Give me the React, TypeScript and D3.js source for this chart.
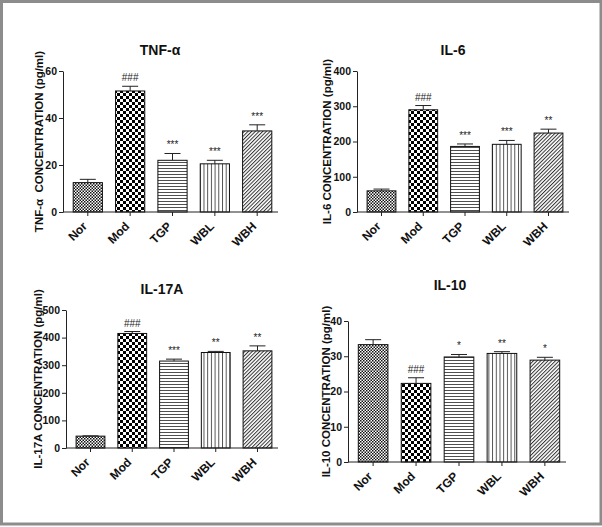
import React, { useEffect, useRef } from 'react';
import * as d3 from 'd3';

// groups shared by all four panels
const groups = ['Nor', 'Mod', 'TGP', 'WBL', 'WBH'];

// TNF-α (pg/ml)
const tnfMean = [12.5, 51.5, 22, 20.5, 34.5];
const tnfSem = [1.4, 2, 2.9, 1.5, 2.6];
const tnfSig = ['', '###', '***', '***', '***'];
const tnfTicks = [0, 20, 40, 60];

// IL-6 (pg/ml)
const il6Mean = [60, 290, 186, 192, 224];
const il6Sem = [5, 12, 7, 11, 11];
const il6Sig = ['', '###', '***', '***', '**'];
const il6Ticks = [0, 100, 200, 300, 400];

// IL-17A (pg/ml)
const il17Mean = [43, 415, 315, 346, 352];
const il17Sem = [1, 7, 7, 4, 18];
const il17Sig = ['', '###', '***', '**', '**'];
const il17Ticks = [0, 100, 200, 300, 400, 500];

// IL-10 (pg/ml)
const il10Mean = [33.3, 22.3, 29.8, 30.8, 28.9];
const il10Sem = [1.4, 1.6, 0.7, 0.5, 0.8];
const il10Sig = ['', '###', '*', '**', '*'];
const il10Ticks = [0, 10, 20, 30, 40];

const patternIds = ['pNor', 'pMod', 'pTGP', 'pWBL', 'pWBH'];

const W = 602;
const H = 527;
const FONT = '"Liberation Sans", Arial, Helvetica, sans-serif';

const App: React.FC = () => {
    const svgRef = useRef<SVGSVGElement>(null);

    useEffect(() => {
        if (!svgRef.current) return;
        const svg = d3.select(svgRef.current);
        svg.selectAll('*').remove();

        svg.append('rect').attr('width', W).attr('height', H).attr('fill', '#fff');

        // fill patterns
        const defs = svg.append('defs');
        const fine = defs.append('pattern').attr('id', 'pNor')
            .attr('patternUnits', 'userSpaceOnUse').attr('width', 3).attr('height', 3);
        fine.append('rect').attr('width', 3).attr('height', 3).attr('fill', '#fff');
        fine.append('rect').attr('width', 1.5).attr('height', 1.5).attr('fill', '#111');
        fine.append('rect').attr('x', 1.5).attr('y', 1.5).attr('width', 1.5).attr('height', 1.5).attr('fill', '#111');

        const coarse = defs.append('pattern').attr('id', 'pMod')
            .attr('patternUnits', 'userSpaceOnUse').attr('width', 6).attr('height', 6);
        coarse.append('rect').attr('width', 6).attr('height', 6).attr('fill', '#fff');
        coarse.append('rect').attr('width', 3).attr('height', 3).attr('fill', '#000');
        coarse.append('rect').attr('x', 3).attr('y', 3).attr('width', 3).attr('height', 3).attr('fill', '#000');

        const horiz = defs.append('pattern').attr('id', 'pTGP')
            .attr('patternUnits', 'userSpaceOnUse').attr('width', 4).attr('height', 3);
        horiz.append('rect').attr('width', 4).attr('height', 3).attr('fill', '#fff');
        horiz.append('line').attr('x1', 0).attr('x2', 4).attr('y1', 0.5).attr('y2', 0.5)
            .attr('stroke', '#222').attr('stroke-width', 0.8);

        const vert = defs.append('pattern').attr('id', 'pWBL')
            .attr('patternUnits', 'userSpaceOnUse').attr('width', 3.7).attr('height', 4);
        vert.append('rect').attr('width', 3.7).attr('height', 4).attr('fill', '#fff');
        vert.append('line').attr('x1', 0.5).attr('x2', 0.5).attr('y1', 0).attr('y2', 4)
            .attr('stroke', '#222').attr('stroke-width', 0.8);

        const diag = defs.append('pattern').attr('id', 'pWBH')
            .attr('patternUnits', 'userSpaceOnUse').attr('width', 2.6).attr('height', 2.6)
            .attr('patternTransform', 'rotate(45)');
        diag.append('rect').attr('width', 2.6).attr('height', 2.6).attr('fill', '#fff');
        diag.append('line').attr('x1', 0.5).attr('x2', 0.5).attr('y1', 0).attr('y2', 2.6)
            .attr('stroke', '#333').attr('stroke-width', 1);

        const panels = [
            { title: 'TNF-α', yLabel: 'TNF-α  CONCENTRATION (pg/ml)', mean: tnfMean, sem: tnfSem, sig: tnfSig, ticks: tnfTicks,
              x0: 63, x1: 278, y0: 212, y1: 71, titleX: 160, titleY: 55, labelX: 43 },
            { title: 'IL-6', yLabel: 'IL-6 CONCENTRATION (pg/ml)', mean: il6Mean, sem: il6Sem, sig: il6Sig, ticks: il6Ticks,
              x0: 357, x1: 569, y0: 212, y1: 71, titleX: 453, titleY: 55, labelX: 331 },
            { title: 'IL-17A', yLabel: 'IL-17A CONCENTRATION (pg/ml)', mean: il17Mean, sem: il17Sem, sig: il17Sig, ticks: il17Ticks,
              x0: 66, x1: 278, y0: 448, y1: 310, titleX: 162, titleY: 294, labelX: 42 },
            { title: 'IL-10', yLabel: 'IL-10 CONCENTRATION (pg/ml)', mean: il10Mean, sem: il10Sem, sig: il10Sig, ticks: il10Ticks,
              x0: 348, x1: 566, y0: 462, y1: 321, titleX: 450, titleY: 290, labelX: 330 },
        ];

        panels.forEach(p => {
            const g = svg.append('g').attr('font-family', FONT);

            const x = d3.scaleBand<string>()
                .domain(groups)
                .range([p.x0 + 3, p.x1 + 1])
                .paddingInner(0.31)
                .paddingOuter(0.17);
            const y = d3.scaleLinear()
                .domain([0, d3.max(p.ticks) as number])
                .range([p.y0, p.y1]);

            // bars
            g.selectAll('rect.bar')
                .data(groups)
                .enter()
                .append('rect')
                .attr('class', 'bar')
                .attr('x', d => x(d) as number)
                .attr('y', (d, i) => y(p.mean[i]))
                .attr('width', x.bandwidth())
                .attr('height', (d, i) => p.y0 - y(p.mean[i]))
                .attr('fill', (d, i) => `url(#${patternIds[i]})`)
                .attr('stroke', '#111')
                .attr('stroke-width', 1);

            // upper error bars
            const cap = 8;
            groups.forEach((grp, i) => {
                const cx = (x(grp) as number) + x.bandwidth() / 2;
                const top = y(p.mean[i] + p.sem[i]);
                g.append('line').attr('x1', cx).attr('x2', cx)
                    .attr('y1', y(p.mean[i])).attr('y2', top)
                    .attr('stroke', '#222').attr('stroke-width', 1);
                g.append('line').attr('x1', cx - cap).attr('x2', cx + cap)
                    .attr('y1', top).attr('y2', top)
                    .attr('stroke', '#222').attr('stroke-width', 1);
                if (p.sig[i]) {
                    g.append('text')
                        .attr('x', cx)
                        .attr('y', top - 5)
                        .attr('text-anchor', 'middle')
                        .attr('font-size', '10px')
                        .attr('fill', '#222')
                        .text(p.sig[i]);
                }
            });

            // y axis
            const yAxis = g.append('g')
                .attr('transform', `translate(${p.x0},0)`)
                .call(d3.axisLeft(y).tickValues(p.ticks).tickSize(4).tickPadding(2)
                    .tickSizeOuter(0).tickFormat(d3.format('d')));
            yAxis.select('.domain').attr('stroke', '#222');
            yAxis.selectAll('.tick line').attr('stroke', '#222');
            yAxis.selectAll('text')
                .attr('font-family', FONT)
                .attr('font-size', '10.5px')
                .attr('font-weight', 'bold')
                .attr('fill', '#111');

            // x axis
            g.append('line')
                .attr('x1', p.x0).attr('x2', p.x1)
                .attr('y1', p.y0).attr('y2', p.y0)
                .attr('stroke', '#222').attr('stroke-width', 1);
            groups.forEach(grp => {
                const cx = (x(grp) as number) + x.bandwidth() / 2;
                g.append('line').attr('x1', cx).attr('x2', cx)
                    .attr('y1', p.y0).attr('y2', p.y0 + 4)
                    .attr('stroke', '#222');
                g.append('text')
                    .attr('transform', `translate(${cx},${p.y0 + 15}) rotate(-45)`)
                    .attr('text-anchor', 'end')
                    .attr('font-size', '12px')
                    .attr('font-weight', 'bold')
                    .attr('fill', '#111')
                    .text(grp);
            });

            // title
            g.append('text')
                .attr('x', p.titleX)
                .attr('y', p.titleY)
                .attr('text-anchor', 'middle')
                .attr('font-size', '14px')
                .attr('font-weight', 'bold')
                .attr('fill', '#111')
                .text(p.title);

            // y label
            g.append('text')
                .attr('transform', `translate(${p.labelX},${(p.y0 + p.y1) / 2}) rotate(-90)`)
                .attr('text-anchor', 'middle')
                .attr('font-size', '11.5px')
                .attr('font-weight', 'bold')
                .attr('fill', '#111')
                .attr('xml:space', 'preserve')
                .style('white-space', 'pre')
                .text(p.yLabel);
        });

        // grey frame
        svg.append('rect')
            .attr('x', 1.5).attr('y', 1.5)
            .attr('width', W - 2.5).attr('height', H - 4.5)
            .attr('fill', 'none')
            .attr('stroke', '#8c8c8c')
            .attr('stroke-width', 3);
    }, []);

    return (
        <svg
            ref={svgRef}
            width={W}
            height={H}
            style={{ position: 'absolute', left: 0, top: 0, display: 'block' }}
        />
    );
};

export default App;
